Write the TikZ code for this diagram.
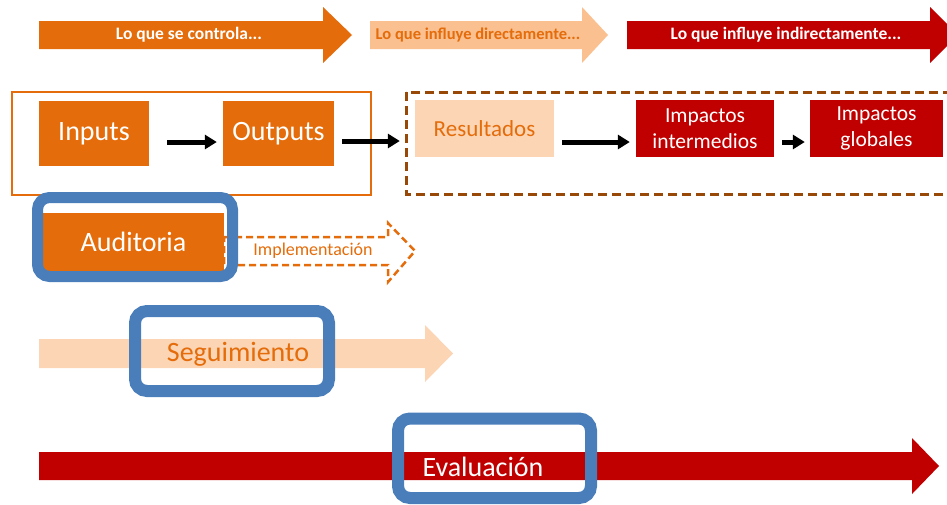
\documentclass[tikz,border=0pt]{standalone}
\usepackage{fontspec}
\setmainfont{Carlito}
\usetikzlibrary{arrows.meta}

\definecolor{ctrlOrange}{HTML}{E46C0A}
\definecolor{softPeach}{HTML}{FAC090}
\definecolor{palePeach}{HTML}{FCD5B5}
\definecolor{deepRed}{HTML}{C00000}
\definecolor{frameBrown}{HTML}{984807}
\definecolor{ringBlue}{HTML}{4A7EBB}

\begin{document}
\begin{tikzpicture}[x=1pt, y=-1pt,
    box/.style={rectangle, inner sep=0pt, align=center, font=\fontsize{28}{29}\selectfont},
    smallbox/.style={box, font=\fontsize{21.5}{26}\selectfont},
    band/.style={inner sep=0pt, font=\bfseries\fontsize{17.5}{18}\selectfont},
    flow/.style={line width=5pt, -{Triangle[length=12pt, width=14pt]}},
    ring/.style={draw=ringBlue, line width=12pt, rounded corners=12pt}]

    %% ------
    %% Pixel coordinates of the reference (y goes down)
    %% ----
    \useasboundingbox (0,0) rectangle (947,504);
    \clip (0,0) rectangle (947,504);

    % top bands
    \fill[ctrlOrange] (39,21) -- (323,21) -- (323,7) -- (352,35) -- (323,63) -- (323,49) -- (39,49) -- cycle;
    \node[band, text=white] (controla) at (189,35) {Lo que se controla...};

    \fill[softPeach] (370,21) -- (582,21) -- (582,7) -- (608,35) -- (582,63) -- (582,49) -- (370,49) -- cycle;
    \node[band, text=ctrlOrange, font=\bfseries\fontsize{16.5}{17}\selectfont] (directo) at (478,35) {Lo que influye directamente...};

    \fill[deepRed] (627,21) -- (930,21) -- (930,7) -- (958,35) -- (930,63) -- (930,49) -- (627,49) -- cycle;
    \node[band, text=white] (indirecto) at (786,35) {Lo que influye indirectamente...};

    % frames
    \draw[ctrlOrange, line width=2pt] (12,92) rectangle (371,195);
    \draw[frameBrown, line width=3pt, dash pattern=on 9pt off 5pt] (406,92) rectangle (990,194);

    % Inputs - Outputs
    \node[box, fill=ctrlOrange, text=white, minimum width=110pt, minimum height=65pt] (inputs) at (94,133.5) {Inputs};
    \node[box, fill=ctrlOrange, text=white, minimum width=111pt, minimum height=65pt] (outputs) at (278.5,133.5) {Outputs};
    \draw[flow] ([xshift=18pt, yshift=-8.5pt] inputs.east) -- ([xshift=-6pt, yshift=-8.5pt] outputs.west);

    % Resultados - Impactos
    \node[smallbox, fill=palePeach, text=ctrlOrange, font=\fontsize{23}{24}\selectfont, minimum width=139pt, minimum height=57pt] (resultados) at (484.5,128.5) {Resultados};
    \node[smallbox, fill=deepRed, text=white, minimum width=138pt, minimum height=57pt] (intermedios) at (705,128.5) {Impactos\\intermedios};
    \node[smallbox, fill=deepRed, text=white, minimum width=133pt, minimum height=57pt] (globales) at (876.5,128.5) {Impactos\\globales};
    \draw[flow] ([xshift=8pt, yshift=-7.5pt] outputs.east) -- ([xshift=-15pt, yshift=-12.5pt] resultados.west);
    \draw[flow] ([xshift=8pt, yshift=-13.5pt] resultados.east) -- ([xshift=-6pt, yshift=-13.5pt] intermedios.west);
    \draw[flow] ([xshift=8pt, yshift=-13.5pt] intermedios.east) -- ([xshift=-5pt, yshift=-13.5pt] globales.west);

    % Auditoria
    \draw[ctrlOrange, line width=2.5pt, dash pattern=on 7pt off 4pt] (224,237) -- (388,237) -- (388,223) -- (415,251) -- (388,282) -- (388,265) -- (224,265) -- cycle;
    \node[box, fill=ctrlOrange, text=white, minimum width=181pt, minimum height=58pt] (auditoria) at (133.5,242) {Auditoria};
    \node[text=ctrlOrange, inner sep=0pt, font=\fontsize{18}{18}\selectfont] (implementacion) at (313,251) {Implementación};
    \draw[ring, line width=11pt] (37.5,197.5) rectangle (232.5,276.5);

    % Seguimiento
    \fill[palePeach] (39,339) -- (425,339) -- (425,325) -- (453,353.5) -- (425,382) -- (425,368) -- (39,368) -- cycle;
    \node[box, text=ctrlOrange] (seguimiento) at (238,354) {Seguimiento};
    \draw[ring] (135,311) rectangle (329,391);

    % Evaluacion
    \fill[deepRed] (39,452) -- (912,452) -- (912,438) -- (939,466) -- (912,494) -- (912,480) -- (39,480) -- cycle;
    \node[box, text=white] (evaluacion) at (483,467) {Evaluación};
    \draw[ring] (398,418.5) rectangle (591,498);

\end{tikzpicture}
\end{document}
